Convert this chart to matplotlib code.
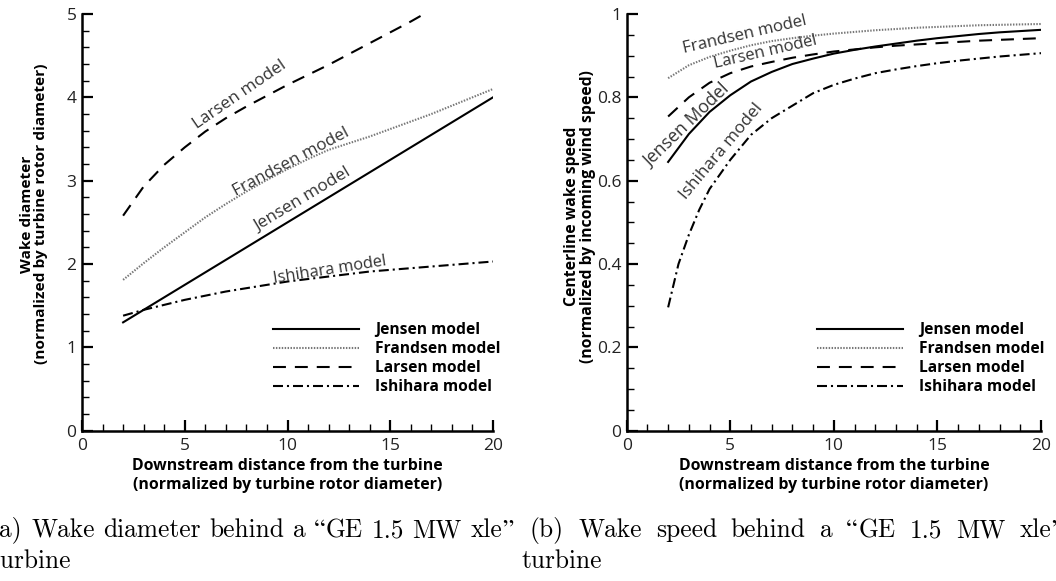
import matplotlib
matplotlib.use("Agg")
import matplotlib.pyplot as plt
import numpy as np

# ---------------- data ----------------
x_diam = [2, 3, 4, 5, 6, 7, 8, 9, 10, 11, 12, 13, 14, 15, 16, 17, 18, 19, 20]
jensen_x_diam = [2, 20]
jensen_diam = [1.30, 4.00]
frandsen_diam = [1.81, 2.01, 2.20, 2.38, 2.56, 2.72, 2.87, 3.01, 3.14, 3.26,
                 3.37, 3.45, 3.53, 3.62, 3.71, 3.80, 3.90, 4.00, 4.10]
larsen_x_diam = [2, 3, 4, 5, 6, 7, 8, 9, 10, 11, 12, 13, 14, 15, 16, 16.5]
larsen_diam = [2.58, 2.93, 3.19, 3.40, 3.59, 3.75, 3.89, 4.02, 4.15, 4.27,
               4.39, 4.52, 4.65, 4.78, 4.91, 4.98]
ishihara_diam = [1.38, 1.45, 1.51, 1.57, 1.62, 1.67, 1.71, 1.75, 1.79, 1.82,
                 1.85, 1.88, 1.91, 1.93, 1.95, 1.97, 1.99, 2.01, 2.03]

x_speed = [2, 3, 4, 5, 6, 7, 8, 9, 10, 11, 12, 13, 14, 15, 16, 17, 18, 19, 20]
jensen_speed = [0.645, 0.712, 0.765, 0.805, 0.838, 0.861, 0.880, 0.893, 0.905, 0.914,
                0.922, 0.929, 0.936, 0.942, 0.947, 0.952, 0.956, 0.959, 0.962]
frandsen_speed = [0.846, 0.877, 0.897, 0.912, 0.925, 0.935, 0.942, 0.948, 0.953, 0.957,
                  0.961, 0.964, 0.967, 0.969, 0.971, 0.973, 0.974, 0.975, 0.976]
larsen_speed = [0.754, 0.800, 0.835, 0.858, 0.874, 0.885, 0.895, 0.903, 0.910, 0.915,
                0.920, 0.924, 0.927, 0.930, 0.933, 0.936, 0.938, 0.940, 0.942]
ishihara_x_speed = [2, 2.5, 3, 3.5, 4, 5, 6, 7, 8, 9, 10, 11, 12, 13, 14, 15, 16, 17, 18, 19, 20]
ishihara_speed = [0.296, 0.400, 0.470, 0.530, 0.580, 0.650, 0.710, 0.750, 0.780, 0.810,
                  0.830, 0.845, 0.858, 0.867, 0.875, 0.882, 0.888, 0.893, 0.898, 0.902, 0.906]

legend_labels = ["Jensen model", "Frandsen model", "Larsen model", "Ishihara model"]
xlabel_lines = ["Downstream distance from the turbine", "(normalized by turbine rotor diameter)"]
ylabel_a_lines = ["Wake diameter", "(normalized by turbine rotor diameter)"]
ylabel_b_lines = ["Centerline wake speed", "(normalized by incoming wind speed)"]
xticklabels = ["0", "5", "10", "15", "20"]
yticklabels_a = ["0", "1", "2", "3", "4", "5"]
yticklabels_b = ["0", "0.2", "0.4", "0.6", "0.8", "1"]
caption_a_words = ["(a)", "Wake", "diameter", "behind", "a", "\u201cGE", "1.5", "MW", "xle\u201d"]
caption_b_words = ["(b)", "Wake", "speed", "behind", "a", "\u201cGE", "1.5", "MW", "xle\u201d"]
caption_line2 = "turbine"

# ---------------- style ----------------
SANS = "Open Sans"
LW = 1.5
sty = {
    "jensen": dict(color="black", lw=LW, linestyle="-"),
    "frandsen": dict(color="#777777", lw=LW, linestyle=(0, (0.7, 0.7))),
    "larsen": dict(color="black", lw=LW, linestyle=(0, (6.2, 4.3))),
    "ishihara": dict(color="black", lw=LW, linestyle=(0, (4.8, 1.9, 1.0, 1.9))),
}

fig = plt.figure(figsize=(10.56, 5.81), dpi=100)
W, H = 1056, 581
R = fig.canvas.get_renderer()

def fit_size(s, family, weight, target_px, base=12.0):
    t = fig.text(0, 0, s, fontsize=base, family=family, weight=weight)
    w = t.get_window_extent(R).width
    t.remove()
    return base * target_px / w

def axrect(x0, x1, ytop, ybot):
    return [x0 / W, 1 - ybot / H, (x1 - x0) / W, (ybot - ytop) / H]

axA = fig.add_axes(axrect(82, 493, 14, 430.7))
axB = fig.add_axes(axrect(626.7, 1041, 14, 430.7))

TICK_FS = 12.5
XL_FS = fit_size(xlabel_lines[1], SANS, "bold", 309)
YLA_FS = fit_size(ylabel_a_lines[1], SANS, "bold", 298)
YLB_FS = fit_size(ylabel_b_lines[1], SANS, "bold", 292)
LEG_FS = fit_size("Frandsen model", SANS, "bold", 125)

def style_axes(ax, ymax, ymajor, yminor, yticklabels, ylines, ylfs, ylx, yly):
    ax.set_xlim(0, 20)
    ax.set_ylim(0, ymax)
    for s in ["top", "right"]:
        ax.spines[s].set_visible(False)
    for s in ["left", "bottom"]:
        ax.spines[s].set_linewidth(1.8)
    ax.set_xticks(np.arange(0, 21, 5))
    ax.set_xticks(np.arange(0, 21, 1), minor=True)
    ax.set_yticks(np.arange(0, ymax + 1e-9, ymajor))
    ax.set_yticks(np.arange(0, ymax + 1e-9, yminor), minor=True)
    ax.set_xticklabels(xticklabels)
    ax.set_yticklabels(yticklabels)
    ax.tick_params(which="major", direction="in", length=8, width=1.6,
                   labelsize=TICK_FS, pad=4, colors="black", labelcolor="#222222")
    ax.tick_params(axis="x", which="major", pad=5)
    ax.tick_params(which="minor", direction="in", length=5, width=1.0)
    for lab in ax.get_xticklabels() + ax.get_yticklabels():
        lab.set_fontfamily(SANS)
    ax.text(0.5, -0.1075, "\n".join(xlabel_lines), transform=ax.transAxes,
            ha="center", va="center", multialignment="center", fontsize=XL_FS,
            fontweight="bold", family=SANS, linespacing=1.3)
    ax.text(ylx, yly, "\n".join(ylines), transform=ax.transAxes, rotation=90,
            ha="center", va="center", multialignment="center", fontsize=ylfs,
            fontweight="bold", family=SANS, linespacing=1.0)

style_axes(axA, 5, 1, 0.2, yticklabels_a, ylabel_a_lines, YLA_FS, (34 - 82) / 411, 0.52)
style_axes(axB, 1, 0.2, 0.05, yticklabels_b, ylabel_b_lines, YLB_FS, (580 - 626.7) / 414.3, 0.514)

# ---------------- plot (a) ----------------
la1, = axA.plot(jensen_x_diam, jensen_diam, **sty["jensen"])
la2, = axA.plot(x_diam, frandsen_diam, **sty["frandsen"])
la3, = axA.plot(larsen_x_diam, larsen_diam, **sty["larsen"])
la4, = axA.plot(x_diam, ishihara_diam, **sty["ishihara"])

# ---------------- plot (b) ----------------
lb1, = axB.plot(x_speed, jensen_speed, **sty["jensen"])
lb2, = axB.plot(x_speed, frandsen_speed, **sty["frandsen"])
lb3, = axB.plot(x_speed, larsen_speed, **sty["larsen"])
lb4, = axB.plot(ishihara_x_speed, ishihara_speed, **sty["ishihara"])

leg_px = LEG_FS * 100 / 72
for ax, handles, x0px, axx0, axw in [(axA, [la1, la2, la3, la4], 273, 82, 411),
                                      (axB, [lb1, lb2, lb3, lb4], 817, 626.7, 414.3)]:
    ax.legend(handles, legend_labels, loc="upper left",
              bbox_to_anchor=((x0px - axx0) / axw, (430.7 - 322) / 416.7),
              frameon=False, borderpad=0, borderaxespad=0, handlelength=86 / leg_px,
              handletextpad=16 / leg_px, labelspacing=0.2,
              prop=dict(family=SANS, weight="bold", size=LEG_FS))

# ---------------- inline labels (pixel positions) ----------------
def inline(text, px, py, rot, length):
    fs = fit_size(text, SANS, "normal", length)
    fig.text(px / W, 1 - py / H, text, rotation=rot, rotation_mode="anchor",
             ha="center", va="center", fontsize=fs, family=SANS, color="#333333")

inline("Larsen model", 240, 95, 34.5, 108)
inline("Frandsen model", 290.7, 162, 28, 128)
inline("Jensen model", 303, 200, 31, 109)
inline("Ishihara model", 330, 270, 9, 114)
inline("Frandsen model", 745, 35, 13, 126)
inline("Larsen model", 765.7, 52, 13, 105)
inline("Jensen Model", 686.7, 125, 44, 111)
inline("Ishihara model", 721.7, 151.7, 50, 119)

# ---------------- captions (word by word, like LaTeX) ----------------
CAP_FS = 18.3
def cap_piece(s, x, ybase):
    parts = []
    buf = ""
    for ch in s:
        if ch in "\u201c\u201d":
            if buf:
                parts.append((buf, "cmr10"))
                buf = ""
            parts.append((ch, "STIXGeneral"))
        else:
            buf += ch
    if buf:
        parts.append((buf, "cmr10"))
    for txt, fam in parts:
        t = fig.text(x / W, 1 - ybase / H, txt, fontsize=CAP_FS, family=fam,
                     va="baseline", ha="left")
        bb = t.get_window_extent(R)
        x = x + bb.width + (1.0 if fam == "STIXGeneral" else 0.0)
    return x

def word_width(s):
    t = fig.text(0, 0, s, fontsize=CAP_FS, family="cmr10")
    w = t.get_window_extent(R).width
    t.remove()
    return w

space_px = word_width("a a") - word_width("aa")

def caption_line(words, x0, ybase, gap):
    x = x0
    for w in words:
        x = cap_piece(w, x, ybase) + gap

caption_line(caption_a_words, -10, 537, space_px)
caption_line(caption_b_words, 530, 537, space_px * 1.65)
cap_piece(caption_line2, -10, 568)
cap_piece(caption_line2, 521, 568)

fig.savefig("out.png", dpi=100)
